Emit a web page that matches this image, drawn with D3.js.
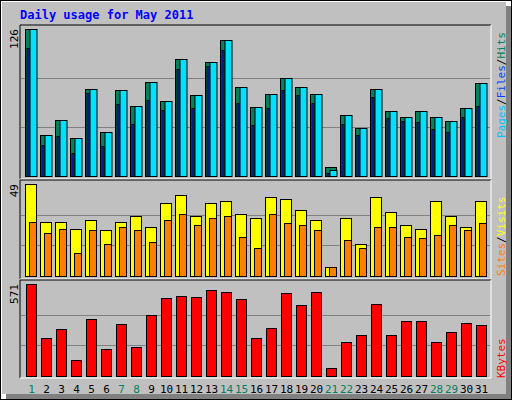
<!DOCTYPE html>
<html>
<head>
<meta charset="utf-8"/>
<title>Daily usage</title>
<style>body{margin:0;background:#fff}</style>
</head>
<body>
<div id="graph"></div>
<script src="https://cdn.jsdelivr.net/npm/d3@7"></script>
<script>
// data
var days = d3.range(1, 32);
var weekend = [1, 7, 8, 14, 15, 21, 22, 28, 29];
var hits  = [126,35,48,33,75,38,74,60,81,64,100,69,98,117,76,59,70,84,76,70,8,52,41,75,56,51,56,51,47,58,80];
var files = [126,35,48,33,75,38,74,60,81,64,100,69,98,117,76,59,70,84,76,70,5,52,41,75,56,51,56,51,47,58,80];
var pages = [110,27,34,20,71,26,62,45,65,57,92,58,94,108,63,44,58,74,69,63,3,45,35,68,50,47,46,40,38,51,60];
var sites  = [49,29,29,25,30,24.5,29,32,26,39,43,32,39,40,33,31,42,41,35,30,5,31,17,42,34,27,25,40,32,26,40];
var visits = [29,23,25,12,24.5,17,26,24.5,18,30,33,27,31,32,21,15,33,28,27,24.5,5,19,15,26,26,21,20,22,27,24.5,28];
var kbytes = [571,233,290,102,352,165,321,183,377,483,496,490,533,521,477,233,296,515,440,521,52,208,252,446,252,340,340,208,271,327,315];

var W = 512, H = 400;
var svg = d3.select("#graph").append("svg").attr("width", W).attr("height", H)
  .style("font-family", "'DejaVu Sans Mono', monospace");

// background and 3d border
svg.append("rect").attr("width", W).attr("height", H).attr("fill", "#000");
svg.append("rect").attr("x", 1).attr("y", 1).attr("width", W - 2).attr("height", H - 2).attr("fill", "#fff");
svg.append("rect").attr("x", 6).attr("y", 6).attr("width", W - 7).attr("height", H - 7).attr("fill", "#808080");
svg.append("rect").attr("x", 2).attr("y", 2).attr("width", W - 8).attr("height", H - 8).attr("fill", "#c0c0c0");

svg.append("text").attr("x", 20).attr("y", 19).attr("fill", "#0000ff")
  .attr("font-size", 12).attr("font-weight", "bold").text("Daily usage for May 2011");

var x = d3.scaleBand().domain(days).range([22.5, 487.5]);

// panels: frame top/bottom and bar base/top
var panels = [
  {y0: 25, y1: 179, base: 176, top: 29, max: 126},
  {y0: 180, y1: 279, base: 276, top: 184, max: 49},
  {y0: 280, y1: 378, base: 376, top: 284, max: 571}
];
panels.forEach(function(p) {
  p.y = d3.scaleLinear().domain([0, p.max]).range([p.base, p.top]);
  svg.append("line").attr("x1", 20).attr("x2", 491).attr("y1", p.y0).attr("y2", p.y0).attr("stroke", "#000");
  svg.append("line").attr("x1", 20).attr("x2", 20).attr("y1", p.y0).attr("y2", p.y1).attr("stroke", "#000");
  svg.append("line").attr("x1", 491).attr("x2", 491).attr("y1", p.y0).attr("y2", p.y1).attr("stroke", "#fff");
  svg.append("line").attr("x1", 20).attr("x2", 491).attr("y1", p.y1).attr("y2", p.y1).attr("stroke", "#fff");
  [1 / 3, 2 / 3].forEach(function(f) {
    var gy = Math.round(p.y(p.max * f)) + 0.5;
    svg.append("line").attr("x1", 21).attr("x2", 490).attr("y1", gy).attr("y2", gy).attr("stroke", "#808080");
  });
  svg.append("text").attr("transform", "translate(18," + (p.top) + ") rotate(-90)")
    .attr("text-anchor", "end").attr("font-size", 11).attr("fill", "#000").text(p.max);
});

function bars(data, p, dx, w, fill) {
  svg.append("g").selectAll("rect").data(data).enter().append("rect")
    .attr("x", function(d, i) { return x(days[i]) + dx + 0.5; })
    .attr("y", function(d) { return Math.round(p.y(d)) + 0.5; })
    .attr("width", w)
    .attr("height", function(d) { return p.base - Math.round(p.y(d)); })
    .attr("fill", fill).attr("stroke", "#000");
}
bars(hits, panels[0], 2.5, 11, "#00805c");
bars(files, panels[0], 7, 7, "#00e0ff");
bars(pages, panels[0], 4, 2, "#0040ff");
bars(sites, panels[1], 2.5, 11, "#ffff00");
bars(visits, panels[1], 6.5, 7, "#ff8000");
bars(kbytes, panels[2], 3.5, 10, "#ff0000");

// x labels
svg.append("g").selectAll("text").data(days).enter().append("text")
  .attr("x", function(d) { return x(d) + 9; }).attr("y", 393)
  .attr("text-anchor", "middle").attr("font-size", 11)
  .attr("fill", function(d) { return weekend.indexOf(d) >= 0 ? "#00805c" : "#000"; })
  .text(function(d) { return d; });

// right legends
function legend(parts, yEnd) {
  var t = svg.append("text").attr("transform", "translate(505," + yEnd + ") rotate(-90)")
    .attr("font-size", 11);
  parts.forEach(function(pt) { t.append("tspan").attr("fill", pt[1]).text(pt[0]); });
}
legend([["Pages", "#00c0ff"], ["/", "#000"], ["Files", "#0040ff"], ["/", "#000"], ["Hits", "#00805c"]], 138);
legend([["Sites", "#ff8000"], ["/", "#000"], ["Visits", "#ffff00"]], 276);
legend([["KBytes", "#ff0000"]], 378);
</script>
</body>
</html>
